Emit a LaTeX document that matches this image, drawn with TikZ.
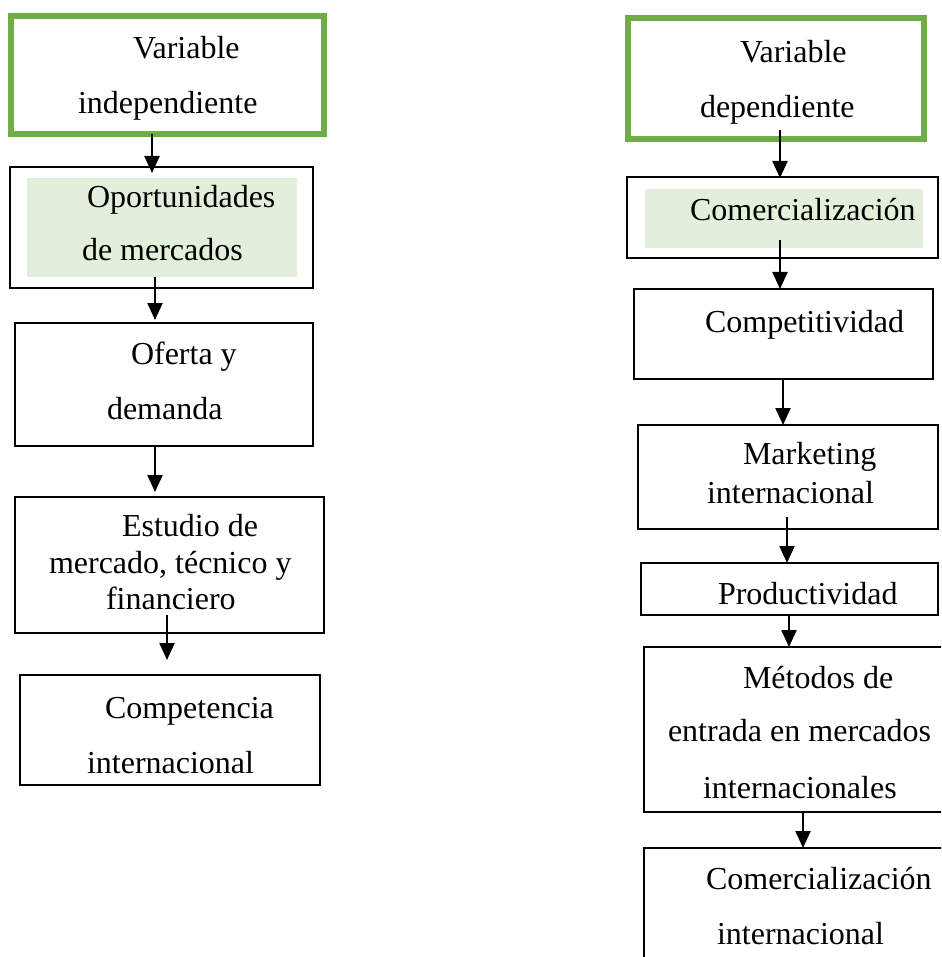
\documentclass[tikz,border=0pt]{standalone}
\usepackage{fontspec}
\setmainfont{Liberation Serif}
\usetikzlibrary{arrows.meta}
\definecolor{vgreen}{HTML}{70AD47}
\definecolor{lgreen}{HTML}{E2EFDA}
\newcommand\mkbox[6]{\node[#2, minimum width={#5-#3}, minimum height={#6-#4}] (#1) at ({(#3+#5)/2},{(#4+#6)/2}) {};}
\begin{document}
\begin{tikzpicture}[x=1pt,y=-1pt,
  box/.style={draw=black, line width=2pt, inner sep=0pt, outer sep=0pt},
  gbox/.style={draw=vgreen, line width=6pt, inner sep=0pt, outer sep=0pt},
  shadebox/.style={fill=lgreen, inner sep=0pt, outer sep=0pt},
  txt/.style={anchor=base west, inner sep=0pt, outer sep=0pt, font=\fontsize{32}{38}\selectfont},
  arr/.style={line width=2.3pt, -{Triangle[length=17pt,width=15pt]}}]
\useasboundingbox (0,0) rectangle (941,957);
\clip (0,0) rectangle (941,957);
\fill[white] (0,0) rectangle (941,957);

% left column boxes
\mkbox{L1}{gbox}{11}{16}{324}{134}
\mkbox{L2}{box}{10}{167}{313}{288}
\mkbox{L2f}{shadebox}{27}{178}{297}{277}
\mkbox{L3}{box}{15}{323}{313}{446}
\mkbox{L4}{box}{15}{497}{324}{633}
\mkbox{L5}{box}{20}{675}{320}{785}

% right column boxes
\mkbox{R1}{gbox}{628}{18}{924}{139}
\mkbox{R2}{box}{627}{177}{938}{258}
\mkbox{R2f}{shadebox}{645}{189}{923}{248}
\mkbox{R3}{box}{634}{289}{933}{379}
\mkbox{R4}{box}{638}{425}{938}{529}
\mkbox{R5}{box}{641}{563}{938}{615}
\mkbox{R6}{box}{644}{647}{960}{812}
\mkbox{R7}{box}{644}{848}{960}{980}

% left texts
\node[txt] (tL1a) at (133,59) {Variable};
\node[txt] (tL1b) at (78,114) {independiente};
\node[txt] (tL2a) at (87,208) {Oportunidades};
\node[txt] (tL2b) at (82,261) {de mercados};
\node[txt] (tL3a) at (131,364) {Oferta y};
\node[txt] (tL3b) at (107,419) {demanda};
\node[txt] (tL4a) at (122,536) {Estudio de};
\node[txt] (tL4b) at (49,573) {mercado, técnico y};
\node[txt] (tL4c) at (106,609) {financiero};
\node[txt] (tL5a) at (105,718) {Competencia};
\node[txt] (tL5b) at (87,773) {internacional};

% right texts
\node[txt] (tR1a) at (740,63) {Variable};
\node[txt] (tR1b) at (700,118) {dependiente};
\node[txt] (tR2a) at (690,221) {Comercialización};
\node[txt] (tR3a) at (705,332) {Competitividad};
\node[txt] (tR4a) at (743,464) {Marketing};
\node[txt] (tR4b) at (707,503) {internacional};
\node[txt] (tR5a) at (718,604) {Productividad};
\node[txt] (tR6a) at (743,688) {Métodos de};
\node[txt] (tR6b) at (668,741) {entrada en mercados};
\node[txt] (tR6c) at (703,798) {internacionales};
\node[txt] (tR7a) at (706,889) {Comercialización};
\node[txt] (tR7b) at (717,944) {internacional};

% arrow x positions
\coordinate (xA1) at (152,0);
\coordinate (xA2) at (155,0);
\coordinate (xA3) at (155,0);
\coordinate (xA4) at (167,0);
\coordinate (xB1) at (780,0);
\coordinate (xB2) at (780,0);
\coordinate (xB3) at (783,0);
\coordinate (xB4) at (787,0);
\coordinate (xB5) at (789,0);
\coordinate (xB6) at (803,0);

% arrows
\draw[arr] (L1.south -| xA1) -- ([yshift=-6pt]L2.north -| xA1);
\draw[arr] ([yshift=11pt]L2.south -| xA2) -- ([yshift=3pt]L3.north -| xA2);
\draw[arr] (L3.south -| xA3) -- ([yshift=5pt]L4.north -| xA3);
\draw[arr] ([yshift=18pt]L4.south -| xA4) -- ([yshift=15pt]L5.north -| xA4);

\draw[arr] ([yshift=9pt]R1.south -| xB1) -- ([yshift=-1pt]R2.north -| xB1);
\draw[arr] ([yshift=18pt]R2.south -| xB2) -- (R3.north -| xB2);
\draw[arr] (R3.south -| xB3) -- (R4.north -| xB3);
\draw[arr] ([yshift=12pt]R4.south -| xB4) -- (R5.north -| xB4);
\draw[arr] (R5.south -| xB5) -- (R6.north -| xB5);
\draw[arr] (R6.south -| xB6) -- (R7.north -| xB6);
\end{tikzpicture}
\end{document}
